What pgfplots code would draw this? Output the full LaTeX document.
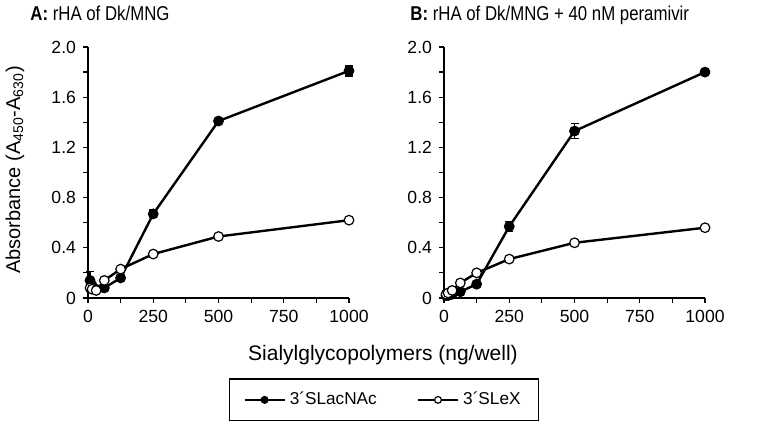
\documentclass[border=0pt]{standalone}
\usepackage{pgfplots}
\pgfplotsset{compat=1.18}
\usepackage{fontspec}
\setmainfont{Liberation Sans}
\begin{document}
\begin{tikzpicture}
\useasboundingbox (0pt,0pt) rectangle (382pt,215.5pt);
\pgfplotsset{
 panel/.style={scale only axis, width=130.5pt, height=125.5pt,
  xmin=0, xmax=1000, ymin=0, ymax=2.0,
  axis x line*=bottom, axis y line*=left,
  tick align=outside,
  xtick={0,250,500,750,1000}, xticklabels={0,250,500,750,1000},
  minor xtick={125,375,625,875},
  ytick={0,0.4,0.8,1.2,1.6,2.0}, yticklabels={0,0.4,0.8,1.2,1.6,2.0},
  minor ytick={0.2,0.6,1.0,1.4,1.8},
  major tick length=2.5pt, minor tick length=2.5pt,
  tick style={black, line width=0.6pt},
  axis line style={line width=0.6pt},
  tick label style={font=\fontsize{8.8}{10}\selectfont},
  clip=false},
 filled/.style={black, line width=1.2pt, mark=*, mark size=2.4pt, mark options={fill=black, solid, line width=0.6pt},
   error bars/.cd, y dir=both, y explicit,
   error bar style={line width=0.8pt}, error mark options={rotate=90, mark size=2pt, line width=0.8pt}},
 open/.style={black, line width=1.2pt, mark=*, mark size=2.4pt, mark options={fill=white, solid, line width=0.6pt}},
}
\pgfplotstableread{
x y e
7.8 0.14 0.07
15.6 0.10 0.02
31.25 0.07 0.01
62.5 0.08 0.01
125 0.16 0.02
250 0.67 0.03
500 1.41 0.02
1000 1.81 0.04
}\Afilled
\pgfplotstableread{
x y
7.8 0.08
15.6 0.07
31.25 0.06
62.5 0.14
125 0.23
250 0.35
500 0.49
1000 0.62
}\Aopen
\pgfplotstableread{
x y e
7.8 0.02 0.01
15.6 0.02 0.01
31.25 0.03 0.01
62.5 0.05 0.01
125 0.11 0.01
250 0.57 0.04
500 1.33 0.06
1000 1.80 0.02
}\Bfilled
\pgfplotstableread{
x y
7.8 0.03
15.6 0.04
31.25 0.06
62.5 0.12
125 0.20
250 0.31
500 0.44
1000 0.56
}\Bopen
\begin{axis}[panel, at={(44pt,66.5pt)}, anchor=south west,
  legend style={at={(axis description cs:1.134,-0.406)}, anchor=center,
    legend columns=2, draw=black, line width=0.6pt,
    font=\fontsize{8.6}{10}\selectfont, inner xsep=7pt, inner ysep=4.5pt,
    /tikz/every even column/.append style={column sep=18pt}},
  legend image code/.code={\draw[#1, line width=1.2pt] (0pt,0pt) -- (20pt,0pt); \draw[#1, mark size=1.7pt, mark repeat=1] plot coordinates {(10pt,0pt)};}]
\addplot[filled] table[x=x, y=y, y error=e] {\Afilled};
\addlegendentry{3´SLacNAc}
\addplot[open] table[x=x, y=y] {\Aopen};
\addlegendentry{3´SLeX}
\end{axis}
\begin{axis}[panel, at={(222pt,66.5pt)}, anchor=south west]
\addplot[filled] table[x=x, y=y, y error=e] {\Bfilled};
\addplot[open] table[x=x, y=y] {\Bopen};
\end{axis}
\node[anchor=base west, inner sep=0pt, font=\fontsize{10}{11}\selectfont] at (15pt,205pt) {\scalebox{0.84}[1]{\textbf{A:} rHA of Dk/MNG}};
\node[anchor=base west, inner sep=0pt, font=\fontsize{10}{11}\selectfont] at (205pt,205pt) {\scalebox{0.84}[1]{\textbf{B:} rHA of Dk/MNG + 40 nM peramivir}};
\node[font=\fontsize{10.5}{12}\selectfont] at (191.5pt,38pt) {Sialylglycopolymers (ng/well)};
\node[rotate=90, font=\fontsize{10}{12}\selectfont] at (7.5pt,130.5pt) {Absorbance (A\textsubscript{450}-A\textsubscript{630})};
\end{tikzpicture}
\end{document}
